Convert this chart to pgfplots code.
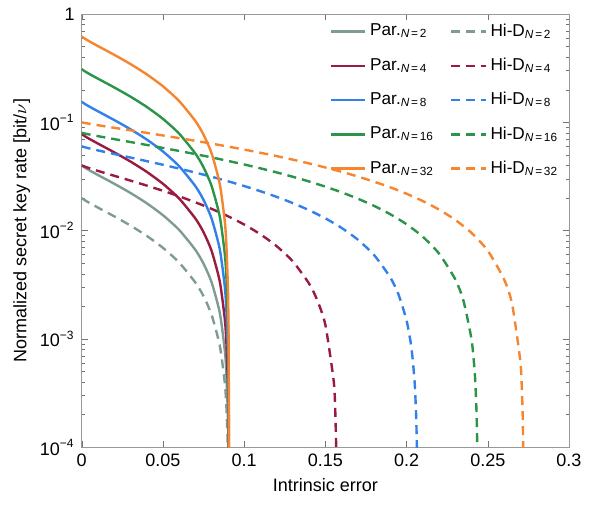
\documentclass[border=0pt]{standalone}
\usepackage{fontspec}
\setmainfont{Liberation Sans}
\usepackage{pgfplots}
\pgfplotsset{compat=1.18}
\usepackage{pgfplotstable}

\definecolor{cgrey}{HTML}{7E9C95}
\definecolor{cred}{HTML}{9A1B40}
\definecolor{cblue}{HTML}{3380EA}
\definecolor{cgreen}{HTML}{2A9448}
\definecolor{corange}{HTML}{F5852F}

\newcommand{\sub}[1]{\textsubscript{\fontsize{5.9}{7}\selectfont\textit{N}\kern0.9pt=\kern0.9pt#1}}

% parallel scheme: e, N=2, 4, 8, 16, 32 ; plus Hi-D N=2 (same threshold)
\pgfplotstableread{
e       p2        p4        p8        p16       p32       h2
0       0.04      0.078     0.155     0.31      0.62      0.02
0.002   0.0381    0.0743    0.1476    0.2953    0.5906    0.01905
0.005   0.03586   0.06992   0.1389    0.2779    0.5558    0.01793
0.01    0.03263   0.06363   0.1264    0.2529    0.5058    0.01632
0.02    0.0271    0.05285   0.1050    0.2100    0.4201    0.01355
0.03    0.02227   0.04343   0.0863    0.1726    0.3452    0.01114
0.04    0.01790   0.03491   0.0694    0.1388    0.2775    0.00895
0.05    0.01388   0.02707   0.0538    0.1076    0.2151    0.00694
0.06    0.01014   0.01977   0.0393    0.0786    0.1571    0.00507
0.07    0.00663   0.01292   0.0257    0.0514    0.1027    0.00331
0.075   0.00495   0.00966   0.0192    0.0384    0.0768    0.00248
0.08    0.00332   0.00647   0.01287   0.0257    0.0515    0.00166
0.085   0.00174   0.00339   0.00673   0.01345   0.0269    0.000868
0.088   0.000806  0.00157   0.00312   0.00625   0.0125    0.000403
0.089   0.000499  0.000973  0.00193   0.00387   0.00774   0.000250
0.09    0.000194  0.000378  0.000752  0.00150   0.00301   0.0000970
0.0903  0.000102  0.000200  0.000397  0.000794  0.00159   0.0000512
0.0905  0.0000412 0.0000803 0.000160  0.000319  0.000639  0.0000206
0.0906  0.0000108 0.0000211 0.0000419 0.0000837 0.000167  0.0000054
0.09063 0.0000016 0.0000031 0.0000062 0.0000124 0.0000248 0.0000008
}\partab

\pgfplotstableread{
e      r
0      0.04
0.002  0.03891
0.005  0.03757
0.01   0.03559
0.02   0.03210
0.03   0.02897
0.04   0.02606
0.05   0.02333
0.06   0.02073
0.07   0.01825
0.08   0.01588
0.09   0.01359
0.1    0.01139
0.11   0.00925
0.12   0.00719
0.13   0.00519
0.14   0.00324
0.145  0.00228
0.15   0.00135
0.155  0.000425
0.156  0.000242
0.157  0.0000594
0.1572 0.0000228
0.1573 0.0000046
}\hdfour

\pgfplotstableread{
e      r
0      0.06
0.002  0.05880
0.005  0.05729
0.01   0.05504
0.02   0.05099
0.03   0.04730
0.04   0.04383
0.05   0.04054
0.06   0.03739
0.07   0.03435
0.08   0.03142
0.09   0.02858
0.1    0.02581
0.11   0.02312
0.12   0.02050
0.13   0.01794
0.14   0.01544
0.15   0.01299
0.16   0.01059
0.17   0.00825
0.18   0.00595
0.19   0.00369
0.195  0.00258
0.2    0.00148
0.203  0.000826
0.205  0.000391
0.206  0.000174
0.2065 0.0000654
0.2067 0.000022
0.2068 0.0000004
}\hdeight

\pgfplotstableread{
e      r
0      0.08
0.002  0.07869
0.005  0.07704
0.01   0.07453
0.02   0.06999
0.03   0.06579
0.04   0.06183
0.05   0.05803
0.06   0.05438
0.07   0.05084
0.08   0.04741
0.09   0.04406
0.1    0.04080
0.11   0.03761
0.12   0.03448
0.13   0.03142
0.14   0.02842
0.15   0.02547
0.16   0.02257
0.17   0.01972
0.18   0.01692
0.19   0.01416
0.2    0.01145
0.21   0.00878
0.22   0.00614
0.23   0.00355
0.235  0.00226
0.24   0.000989
0.242  0.000482
0.243  0.000228
0.2435 0.000102
0.2438 0.0000256
0.2439 0.0000004
}\hdsixteen

\pgfplotstableread{
e       r
0       0.1
0.002   0.09860
0.005   0.09680
0.01    0.09406
0.02    0.08903
0.03    0.08436
0.04    0.07992
0.05    0.07564
0.06    0.07151
0.07    0.06750
0.08    0.06359
0.09    0.05977
0.1     0.05602
0.11    0.05235
0.12    0.04875
0.13    0.04521
0.14    0.04173
0.15    0.03830
0.16    0.03493
0.17    0.03160
0.18    0.02832
0.19    0.02509
0.2     0.02190
0.21    0.01875
0.22    0.01564
0.23    0.01256
0.24    0.00953
0.25    0.00653
0.26    0.00356
0.265   0.00209
0.27    0.000633
0.271   0.000342
0.2715  0.000196
0.2719  0.0000798
0.2721  0.0000216
0.27217 0.0000012
}\hdthirtytwo

\begin{document}
\begin{tikzpicture}
\begin{axis}[
    ymode=log,
    scale only axis,
    width=243.5pt, height=216.5pt,
    xmin=0, xmax=0.3, ymin=1e-4, ymax=1,
    xtick={0,0.05,0.1,0.15,0.2,0.25,0.3},
    xticklabels={0,0.05,0.1,0.15,0.2,0.25,0.3},
    ytick={1e-4,1e-3,1e-2,1e-1,1},
    yticklabels={10\textsuperscript{−4},10\textsuperscript{−3},10\textsuperscript{−2},10\textsuperscript{−1},1},
    tick align=inside,
    axis line style={black!40},
    tick style={black!55},
    major tick length=3pt, minor tick length=1.6pt,
    ticklabel style={font=\fontsize{9}{11}\selectfont},
    label style={font=\fontsize{9}{11}\selectfont},
    xlabel={Intrinsic error},
    ylabel={Normalized secret key rate [bit/$\nu$]},
    xlabel style={yshift=1pt},
    ylabel style={yshift=-2pt},
    legend columns=2,
    legend cell align=left,
    legend style={at={(0.999,0.997)}, anchor=north east, draw=none, fill=none,
        font=\fontsize{8.6}{10.5}\selectfont, row sep=5.4pt,
        /tikz/every even column/.append style={column sep=6pt}},
    every axis plot/.append style={line width=1.2pt, smooth, tension=0.4},
    hid/.style={dash pattern=on 4.5pt off 3pt},
]
\addplot[cgrey] table[x=e,y=p2] {\partab};
\addlegendentry{Par.\sub{2}}
\addplot[cgrey, hid] table[x=e,y=h2] {\partab};
\addlegendentry{Hi-D\sub{2}}
\addplot[cred] table[x=e,y=p4] {\partab};
\addlegendentry{Par.\sub{4}}
\addplot[cred, hid] table[x=e,y=r] {\hdfour};
\addlegendentry{Hi-D\sub{4}}
\addplot[cblue] table[x=e,y=p8] {\partab};
\addlegendentry{Par.\sub{8}}
\addplot[cblue, hid] table[x=e,y=r] {\hdeight};
\addlegendentry{Hi-D\sub{8}}
\addplot[cgreen] table[x=e,y=p16] {\partab};
\addlegendentry{Par.\sub{16}}
\addplot[cgreen, hid] table[x=e,y=r] {\hdsixteen};
\addlegendentry{Hi-D\sub{16}}
\addplot[corange] table[x=e,y=p32] {\partab};
\addlegendentry{Par.\sub{32}}
\addplot[corange, hid] table[x=e,y=r] {\hdthirtytwo};
\addlegendentry{Hi-D\sub{32}}
\coordinate (sw) at (rel axis cs:0,0);
\coordinate (ne) at (rel axis cs:1,1);
\end{axis}
\pgfresetboundingbox
\path ([shift={(-40.85pt,-28.5pt)}]sw) rectangle ([shift={(10.5pt,7pt)}]ne);
\end{tikzpicture}
\end{document}
